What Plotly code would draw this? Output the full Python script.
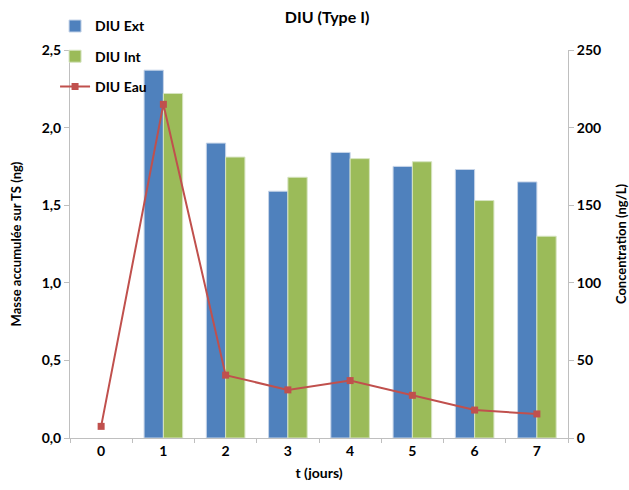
import plotly.graph_objects as go

days = ["0", "1", "2", "3", "4", "5", "6", "7"]
diu_ext = [None, 2.37, 1.90, 1.59, 1.84, 1.75, 1.73, 1.65]
diu_int = [None, 2.22, 1.81, 1.68, 1.80, 1.78, 1.53, 1.30]
diu_eau = [7.5, 215, 40.5, 31, 37, 27.5, 18, 15.5]

font_family = "Lato, 'Open Sans', sans-serif"

fig = go.Figure()
fig.add_trace(go.Bar(x=days, y=diu_ext, name="<b>DIU Ext</b>", legendgroup="a",
                     marker=dict(color="#4F81BD", line=dict(color="#C6D4E8", width=1))))
fig.add_trace(go.Bar(x=days, y=diu_int, name="<b>DIU Int</b>", legendgroup="b",
                     marker=dict(color="#9BBB59", line=dict(color="#D6E4C0", width=1))))
fig.add_trace(go.Scatter(x=days, y=diu_eau, name="<b>DIU Eau</b>", legendgroup="c", yaxis="y2",
                         mode="lines+markers",
                         line=dict(color="#C0504D", width=2),
                         marker=dict(symbol="square", size=7, color="#C0504D")))

fig.update_layout(
    width=629, height=490,
    margin=dict(l=70, r=61, t=50, b=52, autoexpand=False),
    paper_bgcolor="white", plot_bgcolor="white",
    separators=",.",
    font=dict(family=font_family, size=14, color="#000000"),
    title=dict(text="<b>DIU (Type I)</b>", x=0.52, xanchor="center", y=0.975, yanchor="top",
               font=dict(size=16)),
    barmode="group", bargap=0.38, bargroupgap=0,
    showlegend=True,
    legend=dict(x=-0.03, y=1.102, xanchor="left", yanchor="top",
                font=dict(size=14, family=font_family, color="#000"),
                traceorder="grouped", tracegroupgap=9, bgcolor="rgba(0,0,0,0)",
                itemwidth=30),
    xaxis=dict(type="category", showgrid=False, showline=True, linecolor="#BFBFBF",
               ticks="outside", ticklen=4, tickcolor="#BFBFBF", tickson="boundaries",
               tickfont=dict(size=14), automargin=False,
               title=dict(text="<b>t (jours)</b>", font=dict(size=14), standoff=10)),
    yaxis=dict(range=[0, 2.5], dtick=0.5, tickformat=".1f", showgrid=False, zeroline=False,
               showline=True, linecolor="#BFBFBF", ticks="outside", ticklen=5,
               tickcolor="#BFBFBF", tickfont=dict(size=14), automargin=False,
               title=dict(text="<b>Masse accumulée sur TS (ng)</b>", font=dict(size=13), standoff=17)),
    yaxis2=dict(range=[0, 250], dtick=50, overlaying="y", side="right", showgrid=False,
                zeroline=False, showline=True, linecolor="#BFBFBF", ticks="outside",
                ticklen=5, tickcolor="#BFBFBF", tickfont=dict(size=14), automargin=False,
                title=dict(text="<b>Concentration (ng/L)</b>", font=dict(size=13), standoff=18)),
)

fig.update_xaxes(tickprefix="<b>", ticksuffix="</b>")
fig.update_yaxes(tickprefix="<b>", ticksuffix="</b>")

fig.write_html("out.html", post_script="document.body.style.margin='0';",
               config={"displayModeBar": False})
